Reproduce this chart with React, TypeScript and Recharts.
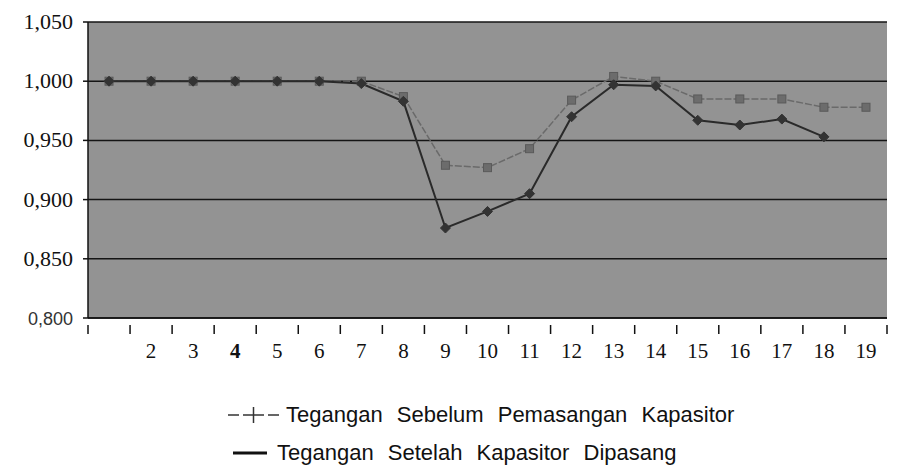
import React from "react";
import { LineChart, Line, XAxis, YAxis, CartesianGrid } from "recharts";

// bus number along the feeder (label "1" is not printed in the original)
const BUS = [1, 2, 3, 4, 5, 6, 7, 8, 9, 10, 11, 12, 13, 14, 15, 16, 17, 18, 19];
const BUS_LABELS = ["", "2", "3", "4", "5", "6", "7", "8", "9", "10", "11", "12", "13", "14", "15", "16", "17", "18", "19"];

// per-unit voltage
const SEBELUM = [1.0, 1.0, 1.0, 1.0, 1.0, 1.0, 1.0, 0.987, 0.929, 0.927, 0.943, 0.984, 1.004, 1.0, 0.985, 0.985, 0.985, 0.978, 0.978];
const SETELAH = [1.0, 1.0, 1.0, 1.0, 1.0, 1.0, 0.998, 0.983, 0.876, 0.89, 0.905, 0.97, 0.997, 0.996, 0.967, 0.963, 0.968, 0.953, null];

const Y_TICKS = [0.8, 0.85, 0.9, 0.95, 1.0, 1.05];

const data = BUS.map((n, i) => ({ n, sebelum: SEBELUM[i], setelah: SETELAH[i] }));

// ticks at every bus (label) and every half step (tick mark between categories)
const X_TICKS = [...BUS.map((n) => n - 0.5), BUS[BUS.length - 1] + 0.5, ...BUS].sort((a, b) => a - b);

const serif = "'Liberation Serif', 'Times New Roman', serif";
const sans = "'Liberation Sans', Arial, sans-serif";

const XTick = (props: any) => {
  const { x, y, payload } = props;
  const v = payload.value as number;
  if (v % 1 !== 0) {
    return <line x1={x} x2={x} y1={y - 1} y2={y + 8} stroke="#111" strokeWidth={1.5} />;
  }
  const label = BUS_LABELS[BUS.indexOf(v)];
  return (
    <text
      x={x}
      y={y + 32}
      textAnchor="middle"
      fontFamily={serif}
      fontSize={21}
      fontWeight={v === 4 ? 700 : 400}
      fill="#111"
    >
      {label}
    </text>
  );
};

const YTick = (props: any) => {
  const { x, y, payload } = props;
  const v = payload.value as number;
  const txt = v.toFixed(3).replace(".", ",");
  const low = v === 0.8;
  return (
    <text
      x={x}
      y={y + 7}
      textAnchor="end"
      fontFamily={low ? sans : serif}
      fontSize={low ? 18 : 22}
      fill={low ? "#333" : "#111"}
    >
      {txt}
    </text>
  );
};

const Diamond = (props: any) => {
  const { cx, cy, value } = props;
  if (value == null || cx == null) return null;
  const r = 5;
  return (
    <polygon
      key={`d-${cx}`}
      points={`${cx},${cy - r} ${cx + r},${cy} ${cx},${cy + r} ${cx - r},${cy}`}
      fill="#333"
      stroke="#333"
    />
  );
};

const Square = (props: any) => {
  const { cx, cy, value } = props;
  if (value == null || cx == null) return null;
  return <rect key={`s-${cx}`} x={cx - 4} y={cy - 4} width={8} height={8} fill="#6c6c6c" stroke="#5a5a5a" />;
};

const legendText: React.CSSProperties = {
  position: "absolute",
  fontFamily: sans,
  fontSize: 22,
  color: "#111",
  wordSpacing: 8,
  lineHeight: "24px",
  whiteSpace: "nowrap",
};

export default function App() {
  return (
    <div style={{ position: "absolute", left: 0, top: 0, width: 897, height: 468, background: "#fff" }}>
      <LineChart width={897} height={468} data={data} margin={{ top: 22, right: 10, bottom: 0, left: 0 }}>
        <CartesianGrid vertical={false} horizontal stroke="#151515" strokeWidth={1.5} fill="#939393" />
        <XAxis
          dataKey="n"
          type="number"
          domain={[0.5, 19.5]}
          ticks={X_TICKS}
          interval={0}
          tick={<XTick />}
          tickLine={false}
          axisLine={{ stroke: "#111", strokeWidth: 1.5 }}
          height={150}
        />
        <YAxis
          type="number"
          domain={[0.8, 1.05]}
          ticks={Y_TICKS}
          interval={0}
          tick={<YTick />}
          tickSize={5}
          tickMargin={10}
          tickLine={{ stroke: "#111", strokeWidth: 1.5 }}
          axisLine={{ stroke: "#111", strokeWidth: 1.5 }}
          width={88}
        />
        <Line
          dataKey="sebelum"
          stroke="#6a6a6a"
          strokeWidth={1.5}
          strokeDasharray="7 2"
          dot={<Square />}
          isAnimationActive={false}
        />
        <Line
          dataKey="setelah"
          stroke="#2a2a2a"
          strokeWidth={2}
          dot={<Diamond />}
          connectNulls={false}
          isAnimationActive={false}
        />
      </LineChart>

      <svg width={54} height={20} style={{ position: "absolute", left: 227, top: 405 }}>
        <line x1={1} x2={12} y1={10} y2={10} stroke="#333" strokeWidth={1.5} />
        <line x1={16} x2={37} y1={10} y2={10} stroke="#333" strokeWidth={1.5} />
        <line x1={26.5} x2={26.5} y1={2} y2={18} stroke="#333" strokeWidth={1.5} />
        <line x1={41} x2={52} y1={10} y2={10} stroke="#333" strokeWidth={1.5} />
      </svg>
      <div style={{ ...legendText, left: 286, top: 403 }}>Tegangan Sebelum Pemasangan Kapasitor</div>

      <svg width={40} height={20} style={{ position: "absolute", left: 230, top: 443 }}>
        <line x1={3} x2={37} y1={10} y2={10} stroke="#111" strokeWidth={3} />
      </svg>
      <div style={{ ...legendText, left: 277, top: 441 }}>Tegangan Setelah Kapasitor Dipasang</div>
    </div>
  );
}
